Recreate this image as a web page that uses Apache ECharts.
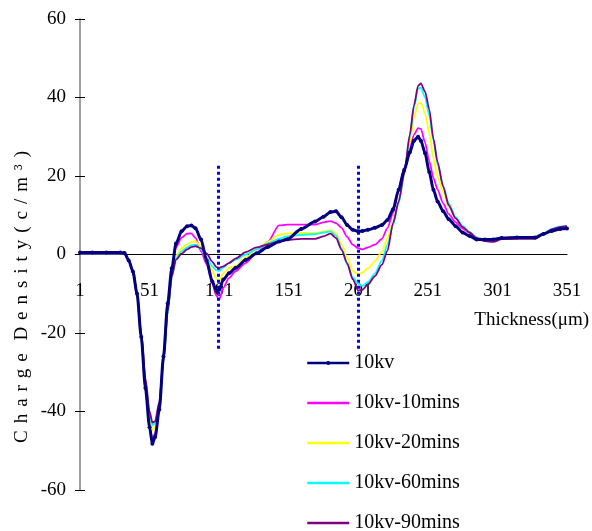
<!DOCTYPE html>
<html><head><meta charset="utf-8">
<script src="https://cdn.jsdelivr.net/npm/echarts@6/dist/echarts.min.js"></script>
<style>html,body{margin:0;padding:0;background:#fff}#c{width:592px;height:531px}</style>
</head><body><div id="c"></div><script>
// Thickness positions (µm index) at which values were read
const thickness = [1,10,20,30,33,36,39,42,45,48,51,53,55,58,61,64,67,70,74,78,81,84,88,92,96,99,101,104,108,113,120,128,136,144,150,160,170,176,181,185,189,193,197,201,204,208,213,218,222,226,230,234,238,241,244,246,249,252,255,258,262,266,271,276,281,286,292,298,304,315,328,334,340,346,351];

const kv10 = [0.5,0.5,0.5,0.5,0.4,-1.5,-4.3,-10,-21,-34,-44,-48.2,-46.5,-39.5,-26,-12.5,-3.5,2.8,5.9,7.2,7.4,6.7,3.8,-1.5,-6.8,-9.3,-9,-6.4,-4.8,-3.4,-1.4,0.3,1.9,3.3,3.9,6.5,8.4,9.6,10.8,11,9.5,7.5,6.3,5.9,6,6.3,6.8,7.5,8.8,11.5,16.5,21.5,26,29,30,29,25.8,21,16.5,13.5,11,9,7.2,5.6,4.7,3.8,3.8,3.8,4.2,4.3,4.3,5.2,6,6.5,6.6];

const kv10_10 = [0.3,0.3,0.3,0.3,0.2,-1.5,-4.5,-10.5,-21.5,-34,-43.5,-47,-45.5,-38.5,-25.5,-12.5,-4,1.8,4.3,5.3,5.4,4.2,0.8,-2.5,-7.5,-10.5,-11.5,-8.5,-6,-4.2,-2.2,0.4,3.2,7.4,7.6,7.6,7.6,8.2,8.5,8,6.8,4.5,2.5,1.6,1.3,1.8,2.5,4,6.8,10.5,16.5,22,27,30.5,32.2,32,28.5,23.8,19.5,16.5,13,10.3,8.2,6.6,5.5,4.3,3.8,3.7,4,4.2,4.2,5.2,6.2,6.8,7];

const kv10_20 = [0.3,0.3,0.3,0.3,0.2,-1.4,-4.2,-10,-20.5,-32.5,-41.5,-44.8,-44,-38.5,-28,-15.5,-6,-0.3,1.6,2.6,3.2,3.4,1.9,-1.3,-4,-6.2,-6.8,-4.8,-3.5,-2.9,-0.8,1.3,3.2,5,5.4,5.5,5.5,5.8,6.2,5.4,2.5,-0.8,-4.2,-5.1,-4.6,-3.5,-1.7,0.8,4.2,8.3,13.5,20.5,28.5,34.8,38.5,38.6,36,31,24.5,19.8,15.8,12.2,9.2,7,5.6,4.3,3.8,3.6,4,4.2,4.2,5.2,6.2,6.9,7.1];

const kv10_60 = [0.2,0.2,0.2,0.2,0.1,-1.3,-4,-9.8,-20,-32,-40.5,-43.5,-43,-38,-27.5,-15,-5.8,-1,0.8,1.8,2.4,2.5,1.4,-0.8,-3,-4,-4.2,-3.3,-2.2,-1.3,0,1.3,2.8,4,4.6,5,5.2,5.6,5.9,4.8,1.5,-2.5,-5.8,-7.5,-8,-7,-4.8,-1.5,2.5,7.5,13,20.5,30,37.5,42.3,42.5,40,35.5,29,23,17.5,13,9.5,7.3,5.7,4.3,3.6,3.5,4,4.2,4.2,5.3,6.5,7.1,7.2];

const kv10_90 = [0.2,0.2,0.2,0.2,0.1,-1.3,-4,-9.8,-20,-31.5,-40,-42.8,-42.5,-37.5,-27,-14.5,-5.5,-1.3,0.2,1.3,1.9,2.1,1.6,0.3,-1.8,-3.2,-3.4,-3,-2.2,-1,0.6,1.8,2.6,3.3,3.7,4,4,4.6,5.3,4.2,1.2,-2.2,-6.3,-9.2,-9,-7.6,-5.5,-2.6,1,8,13.5,20.5,30.5,38,43,43.6,41.5,37,29.5,23.5,17.3,12.5,9.2,7,5.6,4.2,3.4,3.2,3.9,4,4,5.2,6.4,7,7.2];

const seriesNames = ['10kv','10kv-10mins','10kv-20mins','10kv-60mins','10kv-90mins'];
const seriesColors = ['#000080','#ff00ff','#ffff00','#00ffff','#800080'];
const seriesValues = [kv10, kv10_10, kv10_20, kv10_60, kv10_90];

const xTicksMin = 1, xTicksMax = 351, xTickStep = 50;
const yTicksMin = -60, yTicksMax = 60, yTickStep = 20;

// dotted marker lines: [thickness, yFrom, yTo]
const markerLines = [[100, -24, 23], [201, -24, 23]];

const FONT = 'Liberation Serif, Times New Roman, serif';

const series = seriesValues.map((vals, i) => {
  const s = {
    name: seriesNames[i],
    type: 'line',
    data: thickness.map((t, k) => [t, vals[k]]),
    smooth: 0.25,
    smoothMonotone: 'x',
    showSymbol: i === 0,
    symbol: 'circle',
    symbolSize: 4,
    itemStyle: { color: seriesColors[i] },
    lineStyle: { color: seriesColors[i], width: i === 0 ? 3 : 1.8 },
    z: i === 0 ? 10 : 2 + i,
    animation: false
  };
  if (i === 0) {
    s.markLine = {
      silent: true,
      symbol: 'none',
      label: { show: false },
      lineStyle: { color: '#0000ff', type: [3, 3], width: 3 },
      data: markerLines.map(m => [{ coord: [m[0], m[1]] }, { coord: [m[0], m[2]] }])
    };
  }
  return s;
});

const chart = echarts.init(document.getElementById('c'));
chart.setOption({
  backgroundColor: '#ffffff',
  animation: false,
  grid: { left: 80, right: 25, top: 19, bottom: 41 },
  legend: {
    orient: 'vertical',
    left: 306,
    top: 353,
    height: 200,
    padding: 0,
    itemWidth: 42,
    itemHeight: 5,
    itemGap: 20,
    data: seriesNames.map((n, i) => i === 0 ? { name: n } :
      { name: n, itemStyle: { opacity: 0, borderWidth: 0 } }),
    lineStyle: { width: 2.5 },
    textStyle: { fontFamily: FONT, fontSize: 20, color: '#000', lineHeight: 20 }
  },
  xAxis: {
    type: 'value',
    position: 'bottom',
    offset: -235.5,
    min: xTicksMin, max: xTicksMax, interval: xTickStep,
    axisLine: { onZero: false, lineStyle: { color: '#000', width: 1 } },
    axisTick: { show: false },
    splitLine: { show: false },
    axisLabel: { fontFamily: FONT, fontSize: 19, color: '#000', margin: 27, showMinLabel: true, showMaxLabel: true }
  },
  yAxis: [{
    type: 'value',
    min: yTicksMin, max: yTicksMax, interval: yTickStep,
    axisLine: { show: true, onZero: false, lineStyle: { color: '#808080', width: 1.5 } },
    axisTick: { show: true, length: 5, lineStyle: { color: '#000' } },
    splitLine: { show: false },
    axisLabel: { fontFamily: FONT, fontSize: 19, color: '#000', margin: 14 }
  }, {
    type: 'value',
    position: 'left',
    min: yTicksMin, max: yTicksMax, interval: yTickStep,
    axisLine: { show: false },
    axisTick: { show: true, inside: true, length: 5, lineStyle: { color: '#000' } },
    splitLine: { show: false },
    axisLabel: { show: false }
  }],
  graphic: [{
    type: 'text',
    x: 22, y: 297,
    rotation: Math.PI / 2,
    style: {
      text: 'C\u2009\u2006h\u2009\u2006a\u2009\u2006r\u2009\u2006g\u2009\u2006e\u2002\u2006D\u2009\u2006e\u2009\u2006n\u2009\u2006s\u2009\u2006i\u2009\u2006t\u2009\u2006y\u2009\u2006(\u2009\u2006c\u2009\u2006/\u2009\u2006m\u2009\u2006\u00b3\u2009\u2006)',
      fontFamily: FONT, fontSize: 19, fill: '#000',
      align: 'center', verticalAlign: 'middle'
    }
  }, {
    type: 'text',
    x: 589, y: 320,
    style: {
      text: 'Thickness(\u03bcm)',
      fontFamily: FONT, fontSize: 19, fill: '#000',
      align: 'right', verticalAlign: 'middle'
    }
  }],
  series: series
});
</script></body></html>
